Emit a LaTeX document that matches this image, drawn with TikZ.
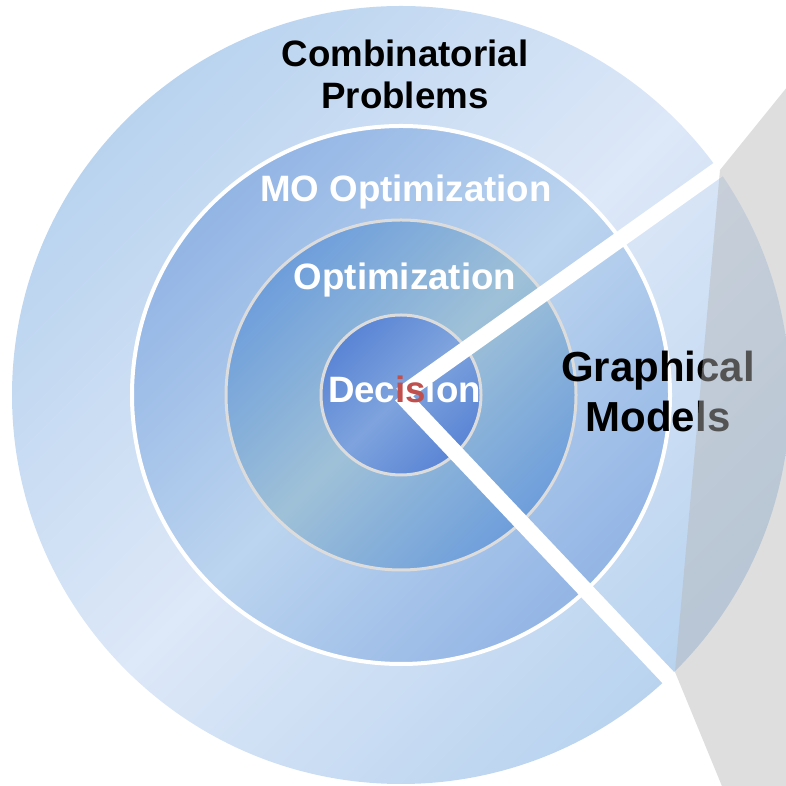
\documentclass[tikz,border=0pt]{standalone}
\usepackage{fontspec}
\setmainfont{Liberation Sans}
\definecolor{outerEnd}{RGB}{185,211,239}
\definecolor{outerMid}{RGB}{221,232,248}
\definecolor{moEnd}{RGB}{147,181,229}
\definecolor{moMid}{RGB}{187,212,239}
\definecolor{optEnd}{RGB}{110,158,219}
\definecolor{optMid}{RGB}{159,193,216}
\definecolor{decEnd}{RGB}{90,133,213}
\definecolor{decMid}{RGB}{126,163,221}
\definecolor{ringGrey}{RGB}{220,220,220}
\definecolor{isred}{RGB}{192,80,77}
\definecolor{overlayGrey}{RGB}{183,183,183}
\begin{document}
\begin{tikzpicture}[x=1pt,y=1pt,
  ring/.style={circle, inner sep=0pt},
  band/.style={draw=white, line width=16pt},
  lbl/.style={font=\bfseries\fontsize{36.7}{42}\selectfont, text=white, inner sep=0pt}]
\useasboundingbox (0,0) rectangle (786,786);
\coordinate (c) at (401,391);
% rings
\node[ring, minimum size=778pt, top color=outerEnd, bottom color=outerEnd, middle color=outerMid, shading angle=45] (outer) at (c) {};
\node[ring, minimum size=538pt, top color=moEnd, bottom color=moEnd, middle color=moMid, shading angle=45, draw=white, line width=4pt] (mo) at (c) {};
\node[ring, minimum size=350pt, top color=optEnd, bottom color=optEnd, middle color=optMid, shading angle=45, draw=ringGrey, line width=3pt] (opt) at (c) {};
\node[ring, minimum size=160pt, top color=decEnd, bottom color=decEnd, middle color=decMid, shading angle=45, draw=ringGrey, line width=3pt] (dec) at (c) {};
% wedge bands
\path (c) ++(35.4:390) coordinate (u);
\path (c) ++(-46.6:390) coordinate (l);
\draw[band] (c) -- (u);
\draw[band] (c) -- (l);
% labels
\node[lbl, text=black, align=center] (comb) at (405,711.5) {Combinatorial\\Problems};
\node[lbl, anchor=base] (molbl) at (406,584.3) {MO Optimization};
\node[lbl, anchor=base] (optlbl) at (405,496) {Optimization};
\node[lbl, anchor=base] (declbl) at (404.5,383) {Dec{\color{isred}is}ion};
\node[font=\bfseries\fontsize{42}{50}\selectfont, align=center, inner sep=0pt] (gm) at (658,394.4) {Graphical\\Models};
% grey overlay
\begin{scope}
\clip (0,0) rectangle (786,786);
\fill[overlayGrey, fill opacity=0.46] (720,616) -- (830,752) -- (830,-44) -- (740,-44) -- (675,114) -- cycle;
\end{scope}
\end{tikzpicture}
\end{document}
